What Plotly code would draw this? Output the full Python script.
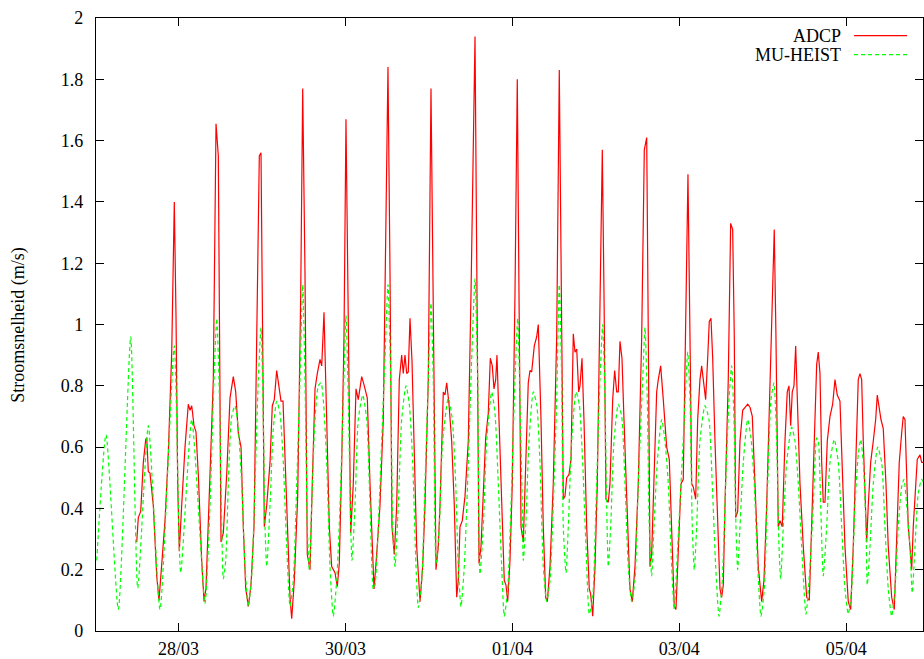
import pandas as pd
import plotly.graph_objects as go

START = "2008-03-27 00:00"

# (hours after 27/03 00:00, current speed m/s)
ADCP = [
    (11.95, 0.29), (12.41, 0.37), (13.10, 0.39), (13.85, 0.55), (14.54, 0.625), (14.83, 0.63),
    (15.29, 0.52), (15.77, 0.515), (16.72, 0.41), (17.70, 0.18), (18.36, 0.10), (19.14, 0.22),
    (20.09, 0.36), (21.04, 0.58), (22.02, 0.91), (22.76, 1.40), (23.25, 1.03), (23.74, 0.48),
    (24.20, 0.26), (24.89, 0.41), (25.84, 0.60), (26.79, 0.74), (27.28, 0.72), (27.77, 0.735),
    (28.43, 0.67), (29.00, 0.65), (29.67, 0.51), (30.64, 0.23), (31.31, 0.096), (31.88, 0.14),
    (33.03, 0.48), (33.98, 0.82), (34.76, 1.655), (35.42, 1.55), (36.19, 0.29), (36.86, 0.32),
    (37.83, 0.51), (38.78, 0.76), (39.73, 0.83), (40.42, 0.78), (41.17, 0.645), (41.95, 0.60),
    (42.61, 0.34), (43.30, 0.14), (44.05, 0.08), (44.82, 0.15), (45.69, 0.34), (46.46, 0.96),
    (47.21, 1.55), (47.70, 1.56), (48.19, 0.96), (48.65, 0.34), (49.34, 0.41), (50.29, 0.55),
    (50.95, 0.735), (51.52, 0.755), (52.21, 0.85), (52.88, 0.80), (53.45, 0.75), (54.03, 0.75),
    (55.09, 0.41), (56.04, 0.11), (56.53, 0.04), (57.28, 0.165), (58.25, 0.44), (59.12, 1.10),
    (59.69, 1.77), (60.35, 1.17), (61.01, 0.25), (61.79, 0.20), (62.45, 0.48), (63.23, 0.79),
    (63.89, 0.84), (64.67, 0.886), (65.16, 0.865), (65.82, 1.04), (66.59, 0.69), (67.34, 0.34),
    (68.03, 0.21), (68.98, 0.19), (69.64, 0.145), (70.22, 0.22), (70.91, 0.55), (71.57, 0.96),
    (72.14, 1.67), (72.81, 0.96), (73.50, 0.32), (74.24, 0.48), (75.02, 0.79), (75.68, 0.755),
    (76.66, 0.83), (77.41, 0.80), (78.27, 0.76), (79.05, 0.48), (79.82, 0.21), (80.20, 0.137),
    (80.97, 0.25), (81.92, 0.41), (82.87, 0.69), (83.56, 1.24), (84.22, 1.84), (84.80, 1.17),
    (85.37, 0.34), (86.04, 0.25), (86.73, 0.41), (87.47, 0.82), (88.16, 0.90), (88.62, 0.84),
    (89.11, 0.90), (89.60, 0.84), (90.06, 0.845), (90.55, 1.02), (91.13, 0.88), (91.70, 0.62),
    (92.48, 0.275), (93.43, 0.096), (94.20, 0.21), (94.86, 0.41), (95.81, 0.82), (96.59, 1.77),
    (97.25, 1.10), (98.03, 0.20), (98.69, 0.275), (99.18, 0.41), (100.13, 0.78), (100.62, 0.77),
    (101.11, 0.81), (101.77, 0.74), (102.54, 0.62), (103.29, 0.41), (103.98, 0.11), (104.44, 0.165),
    (104.93, 0.34), (105.59, 0.36), (106.37, 0.44), (107.32, 0.62), (108.10, 1.10), (108.76, 1.65),
    (109.25, 1.94), (109.82, 1.10), (110.40, 0.22), (110.97, 0.275), (111.63, 0.48), (112.32, 0.63),
    (113.07, 0.71), (113.65, 0.89), (114.22, 0.865), (114.71, 0.79), (115.20, 0.82), (115.57, 0.90),
    (116.15, 0.69), (116.92, 0.41), (117.67, 0.165), (118.16, 0.15), (118.65, 0.096), (119.31, 0.23),
    (119.97, 0.48), (120.75, 1.10), (121.41, 1.80), (121.90, 1.10), (122.48, 0.34), (123.14, 0.29),
    (123.83, 0.55), (124.57, 0.81), (125.06, 0.85), (125.55, 0.845), (126.30, 0.93), (126.99, 0.96),
    (127.45, 1.00), (128.23, 0.69), (128.89, 0.34), (129.58, 0.11), (130.04, 0.096), (130.82, 0.21),
    (131.76, 0.48), (132.74, 0.96), (133.49, 1.83), (134.18, 1.10), (134.64, 0.43), (135.13, 0.44),
    (135.62, 0.50), (136.28, 0.51), (136.86, 0.56), (137.52, 0.97), (138.01, 0.91), (138.50, 0.92),
    (139.07, 0.78), (139.44, 0.80), (140.02, 0.89), (140.59, 0.69), (141.37, 0.34), (142.12, 0.137),
    (142.52, 0.12), (143.10, 0.048), (143.76, 0.21), (144.42, 0.48), (145.19, 1.10), (145.86, 1.57),
    (146.35, 1.10), (146.92, 0.43), (147.58, 0.42), (148.07, 0.48), (148.85, 0.755), (149.42, 0.85),
    (150.00, 0.78), (150.46, 0.78), (150.95, 0.945), (151.52, 0.89), (152.10, 0.69), (152.88, 0.41),
    (153.82, 0.137), (154.48, 0.096), (155.26, 0.21), (156.21, 0.48), (157.19, 0.96), (157.94, 1.57),
    (158.63, 1.61), (159.09, 0.96), (159.58, 0.21), (160.06, 0.25), (160.73, 0.48), (161.50, 0.78),
    (161.96, 0.82), (162.65, 0.865), (163.40, 0.755), (164.38, 0.60), (165.13, 0.56), (165.81, 0.34),
    (166.56, 0.08), (167.05, 0.07), (167.71, 0.275), (168.49, 0.48), (169.15, 0.495), (169.64, 0.82),
    (170.13, 1.24), (170.50, 1.49), (171.08, 0.96), (171.57, 0.48), (172.03, 0.47), (172.72, 0.43),
    (173.29, 0.69), (173.95, 0.82), (174.44, 0.865), (175.10, 0.80), (175.59, 0.755), (176.17, 0.89),
    (176.63, 1.01), (177.12, 1.02), (177.61, 0.89), (178.27, 0.62), (179.04, 0.34), (179.71, 0.137),
    (180.20, 0.11), (180.66, 0.15), (181.15, 0.41), (182.09, 0.82), (182.78, 1.33), (183.36, 1.31),
    (183.82, 0.96), (184.22, 0.37), (184.80, 0.39), (185.46, 0.62), (186.24, 0.72), (186.90, 0.73),
    (187.67, 0.74), (188.34, 0.73), (189.00, 0.70), (189.77, 0.48), (190.72, 0.21), (191.70, 0.096),
    (192.36, 0.165), (193.14, 0.41), (194.09, 0.82), (194.75, 1.10), (195.32, 1.31), (195.81, 0.96),
    (196.47, 0.34), (196.96, 0.36), (197.62, 0.34), (198.40, 0.62), (199.06, 0.78), (199.55, 0.80),
    (200.04, 0.67), (200.50, 0.78), (200.99, 0.80), (201.48, 0.93), (201.94, 0.755), (202.72, 0.48),
    (203.67, 0.275), (204.65, 0.11), (205.40, 0.10), (206.08, 0.34), (206.74, 0.62), (207.52, 0.87),
    (207.98, 0.91), (208.47, 0.84), (208.96, 0.55), (209.42, 0.42), (209.91, 0.42), (210.57, 0.62),
    (211.35, 0.70), (212.12, 0.74), (212.78, 0.82), (213.44, 0.77), (214.22, 0.75), (214.88, 0.55),
    (215.66, 0.275), (216.61, 0.096), (217.30, 0.07), (218.04, 0.275), (218.82, 0.55), (219.48, 0.82),
    (219.97, 0.84), (220.46, 0.82), (220.92, 0.62), (221.41, 0.41), (221.90, 0.29), (222.36, 0.41),
    (223.05, 0.55), (223.80, 0.62), (224.49, 0.69), (224.95, 0.77), (225.52, 0.73), (226.01, 0.69),
    (226.67, 0.66), (227.45, 0.48), (228.11, 0.275), (229.09, 0.11), (229.84, 0.07), (230.53, 0.275),
    (231.27, 0.55), (231.96, 0.645), (232.42, 0.70), (232.91, 0.69), (233.40, 0.48), (233.86, 0.34),
    (234.35, 0.275), (234.84, 0.20), (235.30, 0.34), (236.00, 0.48), (236.45, 0.56), (237.23, 0.575),
    (237.72, 0.55), (238.38, 0.55),
]

MU_HEIST = [
    (0.45, 0.23), (3.12, 0.64), (6.66, 0.07), (10.22, 0.96), (12.24, 0.14), (15.29, 0.67),
    (18.65, 0.07), (22.76, 0.93), (24.60, 0.19), (27.77, 0.69), (31.59, 0.09), (33.03, 0.41),
    (33.98, 0.755), (34.96, 1.02), (35.62, 0.82), (36.19, 0.48), (36.86, 0.17), (37.55, 0.23),
    (38.50, 0.55), (39.27, 0.70), (40.22, 0.735), (41.17, 0.66), (42.15, 0.48), (43.10, 0.21),
    (44.05, 0.08), (45.02, 0.18), (45.97, 0.48), (46.92, 0.82), (47.70, 0.99), (48.36, 0.69),
    (48.85, 0.34), (49.34, 0.21), (50.29, 0.41), (51.24, 0.66), (52.21, 0.75), (53.16, 0.71),
    (54.11, 0.55), (55.09, 0.275), (56.04, 0.08), (56.99, 0.165), (57.97, 0.48), (58.91, 0.82),
    (59.69, 1.13), (60.35, 0.82), (61.01, 0.34), (61.59, 0.20), (62.28, 0.41), (63.23, 0.69),
    (64.18, 0.80), (64.95, 0.81), (65.62, 0.755), (66.59, 0.55), (67.54, 0.21), (68.49, 0.048),
    (69.47, 0.165), (70.42, 0.41), (71.37, 0.755), (72.14, 1.03), (72.81, 0.755), (73.50, 0.34),
    (73.87, 0.23), (74.73, 0.41), (75.68, 0.69), (76.95, 0.77), (78.10, 0.69), (79.05, 0.41),
    (80.00, 0.137), (80.49, 0.15), (81.43, 0.34), (82.41, 0.62), (83.36, 0.89), (84.22, 1.13),
    (85.00, 0.82), (85.58, 0.34), (86.24, 0.21), (87.19, 0.41), (88.16, 0.69), (89.40, 0.80),
    (90.35, 0.74), (91.33, 0.55), (92.28, 0.21), (92.94, 0.076), (93.92, 0.165), (94.86, 0.48),
    (95.81, 0.82), (96.59, 1.07), (97.25, 0.82), (98.03, 0.22), (98.98, 0.34), (99.95, 0.62),
    (101.57, 0.76), (102.72, 0.69), (103.70, 0.48), (104.44, 0.21), (105.22, 0.08), (106.17, 0.21),
    (107.32, 0.55), (108.30, 0.89), (109.25, 1.15), (110.02, 0.82), (110.68, 0.185), (111.63, 0.34),
    (112.61, 0.62), (114.05, 0.78), (115.00, 0.71), (115.95, 0.48), (116.92, 0.21), (117.67, 0.048),
    (118.65, 0.137), (119.60, 0.41), (120.75, 0.82), (121.53, 1.02), (122.19, 0.755), (122.85, 0.41),
    (123.14, 0.23), (123.83, 0.34), (124.78, 0.62), (126.01, 0.78), (126.99, 0.74), (127.94, 0.55),
    (128.89, 0.21), (129.87, 0.096), (130.82, 0.165), (131.76, 0.41), (132.74, 0.755), (133.49, 1.13),
    (134.18, 0.82), (134.64, 0.34), (135.42, 0.19), (136.08, 0.34), (137.06, 0.62), (138.29, 0.78),
    (139.24, 0.74), (140.22, 0.55), (141.17, 0.275), (142.12, 0.055), (143.10, 0.11), (144.04, 0.41),
    (145.19, 0.82), (145.97, 1.00), (146.63, 0.755), (147.12, 0.41), (147.58, 0.21), (148.27, 0.34),
    (149.22, 0.62), (150.46, 0.74), (151.44, 0.70), (152.39, 0.48), (153.33, 0.21), (154.31, 0.096),
    (155.26, 0.165), (156.21, 0.48), (157.48, 0.82), (158.14, 0.99), (158.80, 0.755), (159.37, 0.34),
    (160.06, 0.18), (160.73, 0.34), (161.67, 0.55), (162.94, 0.69), (163.89, 0.62), (164.84, 0.48),
    (165.81, 0.21), (166.56, 0.07), (167.54, 0.275), (168.49, 0.48), (169.44, 0.69), (170.42, 0.91),
    (171.08, 0.755), (171.74, 0.34), (172.32, 0.20), (173.01, 0.34), (173.95, 0.62), (175.39, 0.735),
    (176.54, 0.69), (177.49, 0.48), (178.47, 0.21), (179.42, 0.048), (180.37, 0.165), (181.35, 0.48),
    (182.30, 0.755), (183.07, 0.865), (183.73, 0.69), (184.31, 0.34), (184.80, 0.20), (185.46, 0.34),
    (186.41, 0.55), (187.67, 0.69), (188.62, 0.63), (189.57, 0.48), (190.55, 0.21), (191.50, 0.048),
    (192.45, 0.137), (193.43, 0.48), (194.38, 0.755), (195.24, 0.81), (196.01, 0.62), (196.68, 0.275),
    (197.16, 0.17), (197.91, 0.34), (198.89, 0.55), (200.33, 0.665), (201.28, 0.62), (202.23, 0.48),
    (203.20, 0.275), (204.44, 0.055), (205.59, 0.21), (206.54, 0.41), (207.52, 0.63), (207.98, 0.62),
    (208.67, 0.41), (209.42, 0.18), (210.39, 0.34), (211.35, 0.55), (212.58, 0.625), (213.73, 0.55),
    (214.71, 0.34), (215.66, 0.137), (216.61, 0.055), (217.58, 0.137), (218.53, 0.41), (219.48, 0.575),
    (220.17, 0.625), (220.92, 0.55), (221.70, 0.34), (222.07, 0.15), (222.85, 0.275), (223.80, 0.48),
    (225.06, 0.60), (226.21, 0.55), (227.16, 0.34), (228.11, 0.137), (229.09, 0.048), (230.04, 0.137),
    (230.98, 0.34), (231.96, 0.47), (232.63, 0.495), (233.40, 0.41), (234.35, 0.275), (235.01, 0.124),
    (235.79, 0.275), (236.74, 0.45), (237.72, 0.495), (238.38, 0.48),
]

SERIES_NAMES = ["ADCP", "MU-HEIST"]
SERIES_COLORS = ["#ff0000", "#00ff00"]
X_TICKS = ["2008-03-28", "2008-03-30", "2008-04-01", "2008-04-03", "2008-04-05"]
X_TICK_LABELS = ["28/03", "30/03", "01/04", "03/04", "05/04"]
X_RANGE_HOURS = [0.24, 238.1]
Y_TICKS = [0, 0.2, 0.4, 0.6, 0.8, 1.0, 1.2, 1.4, 1.6, 1.8, 2.0]
Y_TICK_LABELS = ["0", "0.2", "0.4", "0.6", "0.8", "1", "1.2", "1.4", "1.6", "1.8", "2"]
Y_TITLE = "Stroomsnelheid (m/s)"

t0 = pd.Timestamp(START)


def to_xy(pairs):
    x = [t0 + pd.Timedelta(hours=h) for h, _ in pairs]
    y = [v for _, v in pairs]
    return x, y


FONT = "Liberation Serif, Times New Roman, serif"

fig = go.Figure()
x, y = to_xy(ADCP)
fig.add_trace(go.Scatter(x=x, y=y, mode="lines", name=SERIES_NAMES[0],
                         line=dict(color=SERIES_COLORS[0], width=1.2),
                         showlegend=False))
x, y = to_xy(MU_HEIST)
fig.add_trace(go.Scatter(x=x, y=y, mode="lines", name=SERIES_NAMES[1],
                         line=dict(color=SERIES_COLORS[1], width=1.2, dash="4px,3px",
                                   shape="spline", smoothing=0.6),
                         showlegend=False))

axis_common = dict(showline=True, linecolor="black", linewidth=1.3, mirror="allticks",
                   ticks="inside", ticklen=8, tickwidth=1, tickcolor="black",
                   showgrid=False, zeroline=False, automargin=False,
                   tickfont=dict(family=FONT, size=18, color="black"))

fig.update_xaxes(range=[t0 + pd.Timedelta(hours=X_RANGE_HOURS[0]),
                        t0 + pd.Timedelta(hours=X_RANGE_HOURS[1])],
                 tickvals=X_TICKS, ticktext=X_TICK_LABELS, ticklabelstandoff=1,
                 **axis_common)
fig.update_yaxes(range=[0, 2], tickvals=Y_TICKS, ticktext=Y_TICK_LABELS,
                 ticklabelstandoff=8, **axis_common)

# y-axis title
fig.add_annotation(text=Y_TITLE, xref="paper", yref="paper", x=-0.094, y=0.5,
                   textangle=-90, showarrow=False, xanchor="center", yanchor="middle",
                   font=dict(family=FONT, size=18, color="black"))

# gnuplot-style key (text right, sample on the right)
for i, (name, color, dash) in enumerate(zip(SERIES_NAMES, SERIES_COLORS, ["solid", "4px,3px"])):
    yk = 0.9714 - i * 0.031
    fig.add_annotation(text=name, xref="paper", yref="paper", x=0.903, y=yk,
                       showarrow=False, xanchor="right", yanchor="middle",
                       height=17, valign="middle",
                       font=dict(family=FONT, size=18, color="black"))
    fig.add_shape(type="line", xref="paper", yref="paper", x0=0.9166, x1=0.9807,
                  y0=yk, y1=yk, line=dict(color=color, width=1.2, dash=dash))

fig.update_layout(width=924, height=659, margin=dict(l=96, r=1, t=18, b=28),
                  plot_bgcolor="white", paper_bgcolor="white",
                  font=dict(family=FONT, size=18, color="black"))

fig.write_html("out.html")
